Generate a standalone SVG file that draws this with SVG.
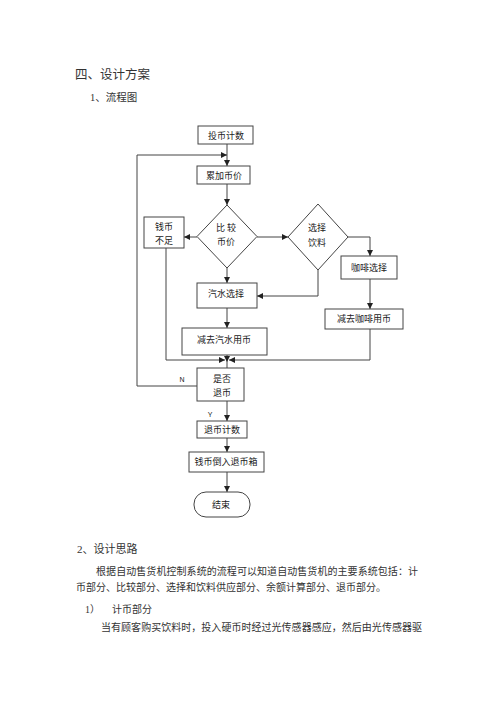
<svg xmlns="http://www.w3.org/2000/svg" width="500" height="708" viewBox="0 0 500 708">
<style>
.bg{fill:#fff}
.box{fill:#fff;stroke:#444;stroke-width:1}
.ln{fill:none;stroke:#444;stroke-width:1}
.fc{font-family:"Noto Sans CJK SC","Liberation Sans",sans-serif;font-size:9px;fill:#222;text-anchor:middle}
.lbl{font-family:"Liberation Sans","Noto Sans CJK SC",sans-serif;font-size:7px;fill:#222;text-anchor:middle}
.body{font-family:"Liberation Serif","Noto Sans CJK SC",serif;fill:#333;font-size:10px}
</style>
<defs>
<marker id="ah" markerWidth="6" markerHeight="6" refX="6" refY="3" orient="auto" markerUnits="userSpaceOnUse">
<path d="M0,0 L6,3 L0,6 z" fill="#222"/>
</marker>
</defs>
<rect class="bg" x="0" y="0" width="500" height="708"/>

<g id="text-blocks">
<text class="body" x="75" y="79" style="font-size:12.5px">四、设计方案</text>
<text class="body" x="90" y="101" style="font-size:10.5px">1、流程图</text>
<text class="body" x="77" y="553" style="font-size:11px">2、设计思路</text>
<text class="body" x="96" y="575" textLength="322" lengthAdjust="spacing">根据自动售货机控制系统的流程可以知道自动售货机的主要系统包括：计</text>
<text class="body" x="76" y="591" textLength="310" lengthAdjust="spacing">币部分、比较部分、选择和饮料供应部分、余额计算部分、退币部分。</text>
<text class="body" x="85" y="613">1）</text>
<text class="body" x="112" y="613">计币部分</text>
<text class="body" x="101" y="631" textLength="321" lengthAdjust="spacing">当有顾客购买饮料时，投入硬币时经过光传感器感应，然后由光传感器驱</text>
</g>

<g id="connectors">
<path class="ln" d="M227,144 V166" marker-end="url(#ah)"/>
<path class="ln" d="M197,386 H137 V155 H227" marker-end="url(#ah)"/>
<path class="ln" d="M227,184 V205" marker-end="url(#ah)"/>
<path class="ln" d="M197,237 H184" marker-end="url(#ah)"/>
<path class="ln" d="M257,237 H288" marker-end="url(#ah)"/>
<path class="ln" d="M348,237 H370 V256" marker-end="url(#ah)"/>
<path class="ln" d="M318,270 V296 H257" marker-end="url(#ah)"/>
<path class="ln" d="M227,268 V283" marker-end="url(#ah)"/>
<path class="ln" d="M370,279 V309" marker-end="url(#ah)"/>
<path class="ln" d="M227,308 V328" marker-end="url(#ah)"/>
<path class="ln" d="M166,248 V360 H225" marker-end="url(#ah)"/>
<path class="ln" d="M370,329 V360 H229" marker-end="url(#ah)"/>
<path class="ln" d="M227,355 V362" marker-end="url(#ah)"/>
<path class="ln" d="M227,362 V368"/>
<path class="ln" d="M227,401 V421" marker-end="url(#ah)"/>
<path class="ln" d="M227,438 V452" marker-end="url(#ah)"/>
<path class="ln" d="M227,472 V492" marker-end="url(#ah)"/>
<text class="lbl" x="182" y="382">N</text>
<text class="lbl" x="210" y="417">Y</text>
</g>

<g id="n-toubi">
<rect class="box" x="198" y="126" width="55" height="18"/>
<text class="fc" x="226" y="138.5">投币计数</text>
</g>
<g id="n-leijia">
<rect class="box" x="197" y="166" width="53" height="18"/>
<text class="fc" x="224" y="178.5">累加币价</text>
</g>
<g id="n-bijiao">
<polygon class="box" points="227,205 257,236.5 227,268 197,236.5"/>
<text class="fc" x="226" y="231">比 较</text>
<text class="fc" x="226" y="245">币价</text>
</g>
<g id="n-buzu">
<rect class="box" x="144" y="217" width="40" height="31"/>
<text class="fc" x="164" y="229.5">钱币</text>
<text class="fc" x="164" y="244">不足</text>
</g>
<g id="n-xuanze">
<polygon class="box" points="318,204 348,237 318,270 288,237"/>
<text class="fc" x="317" y="231">选择</text>
<text class="fc" x="317" y="246">饮料</text>
</g>
<g id="n-kafei">
<rect class="box" x="341" y="256" width="56" height="23"/>
<text class="fc" x="369" y="270.5">咖啡选择</text>
</g>
<g id="n-qishui">
<rect class="box" x="197" y="283" width="60" height="25"/>
<text class="fc" x="226" y="296.5">汽水选择</text>
</g>
<g id="n-jiankafei">
<rect class="box" x="325" y="309" width="78" height="20"/>
<text class="fc" x="364" y="322">减去咖啡用币</text>
</g>
<g id="n-jianqishui">
<rect class="box" x="182" y="328" width="85" height="27"/>
<text class="fc" x="224" y="343">减去汽水用币</text>
</g>
<g id="n-tuibi">
<rect class="box" x="197" y="368" width="47" height="33"/>
<text class="fc" x="222" y="382">是否</text>
<text class="fc" x="222" y="396">退币</text>
</g>
<g id="n-tuibijishu">
<rect class="box" x="197" y="421" width="50" height="17"/>
<text class="fc" x="222" y="432.5">退币计数</text>
</g>
<g id="n-daoru">
<rect class="box" x="189" y="452" width="75" height="20"/>
<text class="fc" x="226" y="465">钱币倒入退币箱</text>
</g>
<g id="n-end">
<rect class="box" x="194" y="492" width="56" height="25" rx="12" ry="12"/>
<text class="fc" x="221" y="507.5">结束</text>
</g>
</svg>
